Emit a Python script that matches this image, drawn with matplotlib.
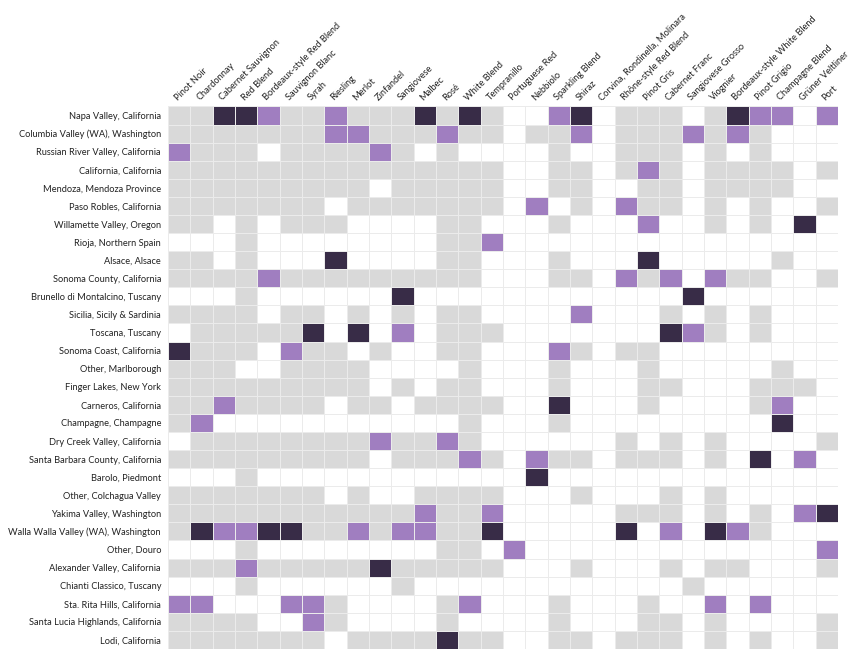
#!/usr/bin/env python3
import numpy as np
import matplotlib
matplotlib.use("Agg")
import matplotlib.pyplot as plt
from matplotlib.colors import ListedColormap, BoundaryNorm

plt.rcParams["font.family"] = ["Lato", "DejaVu Sans"]

varieties = ["Pinot Noir", "Chardonnay", "Cabernet Sauvignon", "Red Blend",
             "Bordeaux-style Red Blend", "Sauvignon Blanc", "Syrah", "Riesling",
             "Merlot", "Zinfandel", "Sangiovese", "Malbec", "Rosé", "White Blend",
             "Tempranillo", "Portuguese Red", "Nebbiolo", "Sparkling Blend", "Shiraz",
             "Corvina, Rondinella, Molinara", "Rhône-style Red Blend", "Pinot Gris",
             "Cabernet Franc", "Sangiovese Grosso", "Viognier",
             "Bordeaux-style White Blend", "Pinot Grigio", "Champagne Blend",
             "Grüner Veltliner", "Port"]

regions = ["Napa Valley, California", "Columbia Valley (WA), Washington",
           "Russian River Valley, California", "California, California",
           "Mendoza, Mendoza Province", "Paso Robles, California",
           "Willamette Valley, Oregon", "Rioja, Northern Spain", "Alsace, Alsace",
           "Sonoma County, California", "Brunello di Montalcino, Tuscany",
           "Sicilia, Sicily & Sardinia", "Toscana, Tuscany", "Sonoma Coast, California",
           "Other, Marlborough", "Finger Lakes, New York", "Carneros, California",
           "Champagne, Champagne", "Dry Creek Valley, California",
           "Santa Barbara County, California", "Barolo, Piedmont",
           "Other, Colchagua Valley", "Yakima Valley, Washington",
           "Walla Walla Valley (WA), Washington", "Other, Douro",
           "Alexander Valley, California", "Chianti Classico, Tuscany",
           "Sta. Rita Hills, California", "Santa Lucia Highlands, California",
           "Lodi, California"]

# 0 = no wines, 1 = present, 2 = high rating, 3 = top rating
levels = [
    [1,1,3,3,2,1,1,2,1,1,1,3,1,3,1, 0,0,2,3,0,1,1,1,0,1,3,2,2,0,2],
    [1,1,1,1,1,1,1,2,2,1,1,1,2,1,1, 0,1,1,2,0,1,1,1,2,1,2,1,0,0,0],
    [2,1,1,1,0,1,1,1,1,2,1,0,1,0,0, 0,0,1,0,0,1,1,1,0,1,0,1,0,0,0],
    [1,1,1,1,1,1,1,1,1,1,1,1,1,1,1, 0,0,1,1,0,1,2,1,0,1,1,1,1,0,1],
    [1,1,1,1,1,1,1,1,1,0,1,1,1,1,1, 0,0,1,1,0,0,1,1,0,1,1,1,1,0,0],
    [1,1,1,1,1,1,1,0,1,1,1,1,1,1,1, 0,2,0,1,0,2,1,1,0,1,0,1,0,0,1],
    [1,1,0,1,0,1,1,1,0,0,0,0,1,1,0, 0,0,1,0,0,0,2,0,0,1,0,1,0,3,0],
    [0,0,0,1,0,0,0,0,0,0,0,0,1,1,2, 0,0,0,0,0,0,0,0,0,0,0,0,0,0,0],
    [1,1,0,1,0,0,0,3,0,0,0,0,1,1,0, 0,0,1,0,0,0,3,0,0,0,0,0,1,0,0],
    [1,1,1,1,2,1,1,1,1,1,1,1,1,1,0, 0,0,1,1,0,2,1,2,0,2,1,1,0,0,1],
    [0,0,0,1,0,0,0,0,0,0,3,0,0,0,0, 0,0,0,0,0,0,0,0,3,0,0,0,0,0,0],
    [1,1,1,1,0,1,1,0,1,0,1,0,1,1,0, 0,0,0,2,0,0,0,1,0,1,0,1,0,0,0],
    [0,1,1,1,1,1,3,0,3,0,2,0,1,1,1, 0,0,0,0,0,0,0,3,2,1,0,1,0,0,0],
    [3,1,1,1,0,2,1,1,0,1,0,0,1,1,0, 0,0,2,1,0,1,1,0,0,0,0,0,0,0,0],
    [1,1,1,0,0,1,1,1,1,0,0,0,0,1,0, 0,0,1,0,0,0,1,0,0,0,0,0,1,0,0],
    [1,1,1,1,1,1,1,1,1,0,1,0,1,1,0, 0,0,1,0,0,0,1,1,0,0,0,1,1,1,0],
    [1,1,2,1,1,1,1,0,1,1,0,1,1,1,1, 0,0,3,0,0,0,1,0,0,0,0,1,2,0,0],
    [1,2,0,0,0,0,0,0,0,0,0,0,0,1,0, 0,0,1,0,0,0,0,0,0,0,0,0,3,0,0],
    [0,1,1,1,1,1,1,1,1,2,1,1,2,1,0, 0,0,0,0,0,1,0,1,0,1,0,0,0,0,1],
    [1,1,1,1,1,1,1,1,1,0,1,1,1,2,1, 0,2,1,1,0,1,1,1,0,1,0,3,0,2,0],
    [0,0,0,1,0,0,0,0,0,0,0,0,0,0,0, 0,3,0,0,0,0,0,0,0,0,0,0,0,0,0],
    [1,1,1,1,1,1,1,0,1,0,0,1,1,1,1, 0,0,0,1,0,0,0,1,0,1,0,0,0,0,0],
    [1,1,1,1,1,1,1,1,1,1,1,2,1,1,2, 0,0,0,0,0,1,1,1,0,1,0,1,0,2,3],
    [1,3,2,2,3,3,1,1,2,1,2,2,1,1,3, 0,0,0,0,0,3,0,2,0,3,2,1,0,0,0],
    [0,0,0,1,0,0,0,0,0,0,0,0,1,1,0, 2,0,0,0,0,0,0,0,0,0,0,0,0,0,2],
    [1,1,1,2,1,1,1,1,1,3,1,1,1,1,1, 0,0,0,1,0,0,0,1,0,1,1,0,0,0,1],
    [0,0,0,1,0,0,0,0,0,0,1,0,0,0,0, 0,0,0,0,0,0,0,0,1,0,0,0,0,0,0],
    [2,2,0,0,0,2,2,1,0,0,0,0,1,2,0, 0,0,1,0,0,0,1,0,0,2,0,2,0,0,0],
    [1,1,1,1,0,0,2,1,0,0,0,0,1,0,0, 0,0,1,0,0,0,1,1,0,1,0,0,0,0,1],
    [1,1,1,1,1,1,1,0,1,1,1,1,3,1,1, 0,0,1,1,0,1,1,1,0,1,0,1,0,0,1],
]

cmap = ListedColormap(["#ffffff", "#d9d9d9", "#a07ec0", "#382c47"])
norm = BoundaryNorm([-0.5, 0.5, 1.5, 2.5, 3.5], cmap.N)

fig = plt.figure(figsize=(8.64, 6.57), dpi=100)
fig.set_facecolor("w")
ax = fig.add_axes([0.1944, 0.0122, 0.7755, 0.8257])

data = np.array(levels)
ax.pcolormesh(data, cmap=cmap, norm=norm, edgecolors="#ebebeb", linewidth=0.6)
ax.set_xlim(0, len(varieties))
ax.set_ylim(len(regions), 0)

ax.set_xticks(np.arange(len(varieties)) + 0.5)
ax.set_yticks(np.arange(len(regions)) + 0.5)
ax.xaxis.tick_top()
ax.set_xticklabels(varieties, rotation=45, ha="left", va="bottom",
                   rotation_mode="anchor", fontsize=6.7, color="#222222")
ax.set_yticklabels(regions, fontsize=6.7, color="#222222")
ax.tick_params(axis="y", length=0, pad=5)
ax.tick_params(axis="x", length=0, pad=3)
for s in ax.spines.values():
    s.set_visible(False)

plt.savefig("out.png", dpi=100)
